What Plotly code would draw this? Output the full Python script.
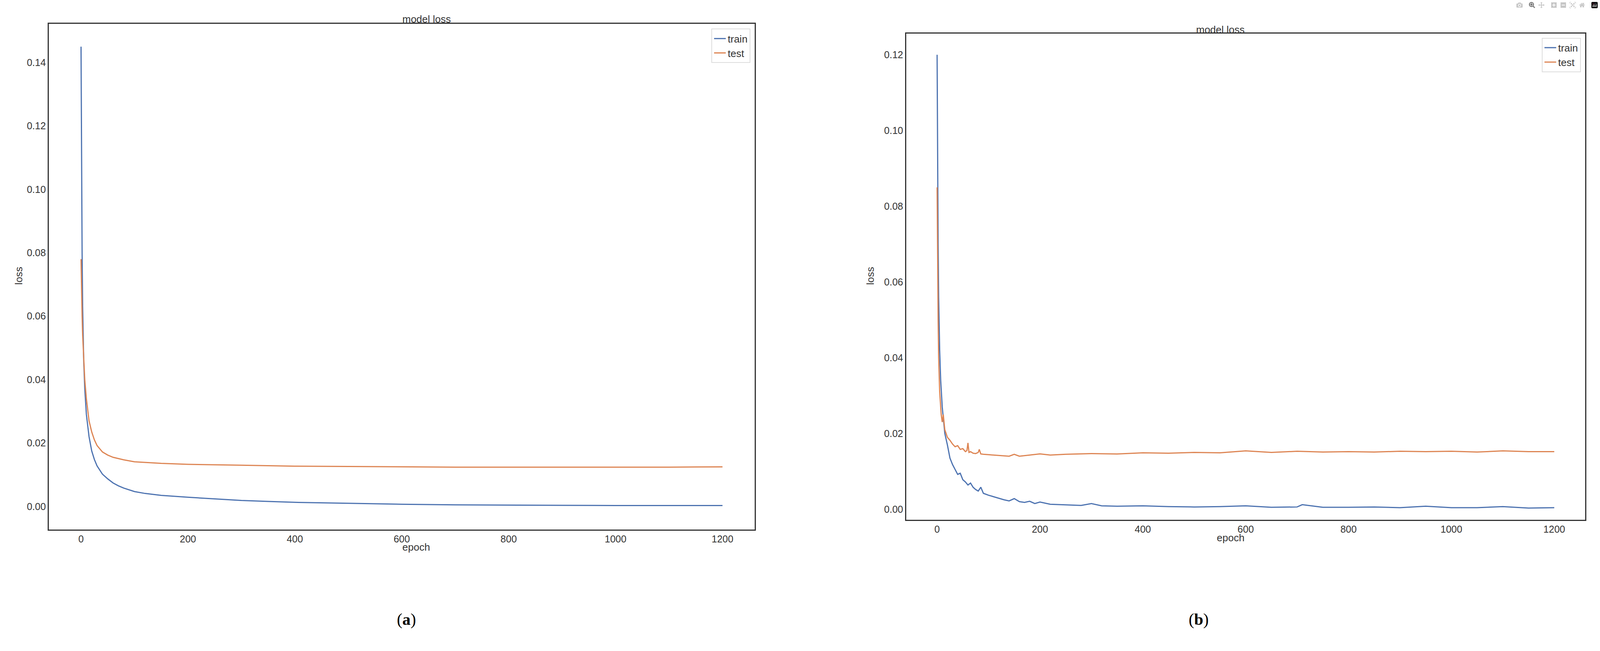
import plotly.graph_objects as go

# (a)
a_train_x = [0,1,2,3,5,7,10,15,20,25,30,40,50,60,70,80,100,120,150,200,250,300,350,400,500,600,700,800,900,1000,1100,1200]
a_train_y = [0.145,0.105,0.08,0.063,0.046,0.037,0.029,0.022,0.0175,0.0148,0.0128,0.0102,0.0087,0.0074,0.0065,0.0058,0.0047,0.0041,0.0035,0.0029,0.0024,0.0019,0.0016,0.0013,0.0010,0.0007,0.0005,0.0004,0.00035,0.0003,0.0003,0.0003]
a_test_x = [0,1,2,3,5,7,10,15,20,25,30,40,50,60,80,100,150,200,300,400,500,600,700,800,900,1000,1100,1200]
a_test_y = [0.078,0.068,0.06,0.054,0.046,0.040,0.034,0.027,0.0235,0.021,0.0192,0.0172,0.0162,0.0155,0.0147,0.0141,0.0136,0.0133,0.0130,0.0127,0.0126,0.0125,0.0124,0.0124,0.0124,0.0124,0.0124,0.0125]
# (b)
b_train_x = [0,1,2,3,5,7,10,15,20,25,30,35,40,45,50,55,60,65,70,75,80,85,90,100,110,120,130,140,150,160,170,180,190,200,220,240,260,280,300,320,350,400,450,500,550,600,650,700,710,750,800,850,900,950,1000,1050,1100,1150,1200]
b_train_y = [0.12,0.09,0.07,0.056,0.042,0.034,0.027,0.020,0.017,0.0135,0.0118,0.0105,0.0092,0.0095,0.0078,0.0072,0.0064,0.0069,0.0058,0.0052,0.0048,0.0058,0.0042,0.0037,0.0033,0.0029,0.0025,0.0022,0.0028,0.0020,0.0018,0.0021,0.0015,0.0019,0.0013,0.0012,0.0011,0.0010,0.0015,0.0009,0.0008,0.0009,0.0007,0.0006,0.0007,0.0009,0.0005,0.0006,0.0012,0.0005,0.0005,0.0006,0.0004,0.0008,0.0004,0.0004,0.0007,0.0003,0.0004]
b_test_x = [0,1,2,3,5,8,10,12,15,20,25,30,35,40,45,50,55,58,60,62,65,70,75,80,82,85,90,100,120,140,150,160,180,200,220,250,300,350,400,450,500,550,600,650,700,750,800,850,900,950,1000,1050,1100,1150,1200]
b_test_y = [0.085,0.065,0.05,0.040,0.031,0.025,0.023,0.025,0.021,0.019,0.0182,0.0172,0.0165,0.0168,0.0158,0.0160,0.0152,0.0155,0.0175,0.0150,0.0152,0.0148,0.0147,0.0150,0.0158,0.0146,0.0145,0.0144,0.0142,0.0140,0.0145,0.0140,0.0143,0.0146,0.0143,0.0145,0.0147,0.0146,0.0149,0.0148,0.0150,0.0149,0.0154,0.0150,0.0153,0.0151,0.0152,0.0151,0.0153,0.0152,0.0153,0.0151,0.0154,0.0152,0.0152]

BLUE = "#4C72B0"
ORANGE = "#DD8452"
fig = go.Figure()
fig.add_trace(go.Scatter(x=a_train_x, y=a_train_y, name="train", mode="lines", line=dict(color=BLUE, width=3), xaxis="x", yaxis="y"))
fig.add_trace(go.Scatter(x=a_test_x, y=a_test_y, name="test", mode="lines", line=dict(color=ORANGE, width=3), xaxis="x", yaxis="y"))
fig.add_trace(go.Scatter(x=b_train_x, y=b_train_y, name="train", mode="lines", line=dict(color=BLUE, width=3), xaxis="x2", yaxis="y2", showlegend=False))
fig.add_trace(go.Scatter(x=b_test_x, y=b_test_y, name="test", mode="lines", line=dict(color=ORANGE, width=3), xaxis="x2", yaxis="y2", showlegend=False))

tickfont = dict(family="Liberation Sans, Arial", size=25, color="#333333")
common = dict(showgrid=False, zeroline=False, showline=True, mirror=True, linecolor="#333333", linewidth=3, ticks="", tickfont=tickfont)
fig.update_layout(
    autosize=True, margin=dict(l=0, r=0, t=0, b=0),
    plot_bgcolor="white", paper_bgcolor="white",
    xaxis=dict(domain=[0.0306, 0.4716], range=[-60, 1260], tickvals=[0,200,400,600,800,1000,1200], anchor="y", **common),
    yaxis=dict(domain=[0.1866, 0.9634], range=[-0.00727, 0.1522], tickvals=[0,0.02,0.04,0.06,0.08,0.10,0.12,0.14], tickformat=".2f", anchor="x", **common),
    xaxis2=dict(domain=[0.5664, 0.9907], range=[-60, 1260], tickvals=[0,200,400,600,800,1000,1200], anchor="y2", **common),
    yaxis2=dict(domain=[0.2015, 0.9484], range=[-0.0028, 0.1256], tickvals=[0,0.02,0.04,0.06,0.08,0.10,0.12], tickformat=".2f", anchor="x2", **common),
    legend=dict(x=0.4690, y=0.9560, xanchor="right", yanchor="top", bgcolor="white", bordercolor="#dddddd", borderwidth=2,
                font=dict(family="Liberation Sans, Arial", size=26, color="#333333")),
    showlegend=True,
)
lab = dict(family="Liberation Sans, Arial", size=26, color="#333333")
ann = [
    dict(text="model loss", x=1057, y=32, font=lab),
    dict(text="model loss", x=3278, y=59, font=lab),
    dict(text="epoch", x=1057, y=1418, font=lab),
    dict(text="epoch", x=3278, y=1394, font=lab),
    dict(text="loss", x=32, y=706, font=lab, textangle=-90),
    dict(text="loss", x=2291, y=706, font=lab, textangle=-90),
    dict(text="(<b>a</b>)", x=1042, y=1612, font=dict(family="Liberation Serif, Times New Roman", size=42, color="black")),
    dict(text="(<b>b</b>)", x=3183, y=1612, font=dict(family="Liberation Serif, Times New Roman", size=42, color="black")),
]
fig.update_layout(annotations=[dict(text=a["text"], x=a["x"]/4211, y=1-a["y"]/1667, xref="paper", yref="paper",
                                    showarrow=False, font=a["font"], textangle=a.get("textangle", 0)) for a in ann])

fig.add_trace(go.Scatter(x=[None], y=[None], mode="lines", line=dict(color=BLUE, width=3), name="train", legend="legend2", xaxis="x2", yaxis="y2"))
fig.add_trace(go.Scatter(x=[None], y=[None], mode="lines", line=dict(color=ORANGE, width=3), name="test", legend="legend2", xaxis="x2", yaxis="y2"))
fig.update_layout(legend2=dict(x=0.9880, y=0.9420, xanchor="right", yanchor="top", bgcolor="white", bordercolor="#dddddd", borderwidth=2,
                               font=dict(family="Liberation Sans, Arial", size=26, color="#333333")))
fig.write_html("out.html", default_width="100vw", default_height="100vh", config={"responsive": True},
               post_script="document.body.style.margin='0';document.body.style.overflow='hidden';")
